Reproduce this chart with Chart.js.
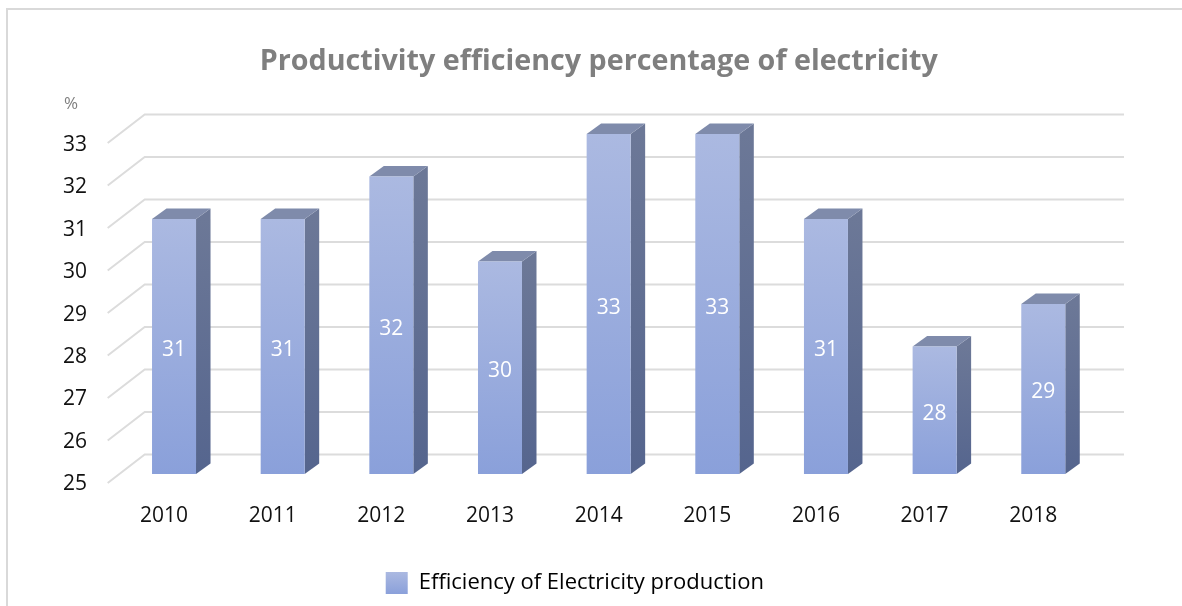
<!DOCTYPE html>
<html>
<head>
<meta charset="utf-8">
<script src="https://cdn.jsdelivr.net/npm/chart.js@4"></script>
<style>
  html, body { margin: 0; padding: 0; background: #fff; overflow: hidden; }
  #wrap { position: relative; width: 1182px; height: 606px; }
  #frame { position: absolute; left: 6px; top: 8px; right: 0; bottom: 0; border-top: 2px solid #d9d9d9; border-left: 2px solid #d9d9d9; }
  canvas { position: absolute; left: 0; top: 0; }
</style>
</head>
<body>
<div id="wrap">
  <div id="frame"></div>
  <canvas id="chartCanvas" width="1182" height="606"></canvas>
</div>
<script>
const years = ['2010', '2011', '2012', '2013', '2014', '2015', '2016', '2017', '2018'];
const efficiency = [31, 31, 32, 30, 33, 33, 31, 28, 29];
const seriesName = 'Efficiency of Electricity production';
const chartTitle = 'Productivity efficiency percentage of electricity';
const unitLabel = '%';

const FONT = '"Open Sans", sans-serif';

// depth of the fake 3d look
const depthX = 14.5;
const depthY = 10.5;

function vGrad(ctx, y0, y1, c0, c1) {
  const g = ctx.createLinearGradient(0, y0, 0, y1);
  g.addColorStop(0, c0);
  g.addColorStop(1, c1);
  return g;
}

const wall3d = {
  id: 'wall3d',
  afterLayout(chart) {
    const { x, y } = chart.scales;
    // tick labels sit on the front edge of the floor, not on the bar plane
    y.getLabelItems().forEach(it => { it.options.translation[1] += 10.5; });
    x.getLabelItems().forEach(it => { it.options.translation[0] -= 10; });
    chart.titleBlock.left += 50;
    chart.titleBlock.right += 50;
    chart.legend.left += 26;
    chart.legend.right += 26;
    chart.legend.top -= 2;
  },
  beforeDatasetsDraw(chart) {
    const { ctx, scales: { y }, chartArea } = chart;
    ctx.save();
    ctx.strokeStyle = '#dcdcdc';
    ctx.lineWidth = 2;
    y.ticks.forEach(t => {
      const py = y.getPixelForValue(t.value);
      ctx.beginPath();
      ctx.moveTo(chartArea.left - 12, py + 9);
      ctx.lineTo(chartArea.left + 25, py - 19.5);
      ctx.lineTo(1124, py - 19.5);
      ctx.stroke();
    });
    // side and top faces of each bar
    chart.getDatasetMeta(0).data.forEach(bar => {
      const l = bar.x - bar.width / 2;
      const r = bar.x + bar.width / 2;
      ctx.fillStyle = vGrad(ctx, bar.y, bar.base, '#6c7897', '#55658e');
      ctx.beginPath();
      ctx.moveTo(r, bar.y);
      ctx.lineTo(r + depthX, bar.y - depthY);
      ctx.lineTo(r + depthX, bar.base - depthY);
      ctx.lineTo(r, bar.base);
      ctx.closePath();
      ctx.fill();
      ctx.fillStyle = '#7f8bab';
      ctx.beginPath();
      ctx.moveTo(l, bar.y);
      ctx.lineTo(l + depthX, bar.y - depthY);
      ctx.lineTo(r + depthX, bar.y - depthY);
      ctx.lineTo(r, bar.y);
      ctx.closePath();
      ctx.fill();
    });
    ctx.restore();
  },
  afterDatasetsDraw(chart) {
    const { ctx, scales: { y } } = chart;
    ctx.save();
    ctx.fillStyle = '#fff';
    ctx.font = '21px ' + FONT;
    ctx.textAlign = 'center';
    ctx.textBaseline = 'middle';
    chart.getDatasetMeta(0).data.forEach((bar, i) => {
      ctx.fillText(String(efficiency[i]), bar.x, (bar.y + bar.base) / 2 + 3.5);
    });
    ctx.fillStyle = '#7f7f7f';
    ctx.font = '17px ' + FONT;
    ctx.fillText(unitLabel, 71, y.getPixelForValue(33) - 30);
    ctx.restore();
  }
};

new Chart(document.getElementById('chartCanvas'), {
  type: 'bar',
  data: {
    labels: years,
    datasets: [{
      label: seriesName,
      data: efficiency,
      base: 25,
      backgroundColor(c) {
        const y = c.chart.scales.y;
        if (!y || c.parsed === undefined) return '#99abdc';
        return vGrad(c.chart.ctx, y.getPixelForValue(c.parsed.y), y.getPixelForValue(25), '#abb9e1', '#8aa0da');
      },
      borderWidth: 0,
      barPercentage: 0.405,
      categoryPercentage: 1
    }]
  },
  plugins: [wall3d],
  options: {
    responsive: false,
    animation: false,
    layout: { padding: { left: 0, right: 84.4, top: 0, bottom: 0 } },
    scales: {
      x: {
        grid: { display: false, drawTicks: false },
        border: { display: false },
        ticks: { color: '#111', font: { family: FONT, size: 21 }, padding: 29, maxRotation: 0, autoSkip: false },
        afterFit(scale) { scale.height = 606 - 474 - scale.chart.legend.height; }
      },
      y: {
        min: 25,
        max: 33,
        grid: { display: false, drawTicks: false },
        border: { display: false },
        ticks: { stepSize: 1, color: '#111', font: { family: FONT, size: 21 }, padding: 32.7 },
        afterFit(scale) { scale.width = 119.7; }
      }
    },
    plugins: {
      tooltip: { enabled: false },
      title: {
        display: true,
        text: chartTitle,
        color: '#7f7f7f',
        font: { family: FONT, size: 28.7, weight: 'bold', lineHeight: 1.2 },
        padding: { top: 44.8, bottom: 54.8 }
      },
      legend: {
        position: 'bottom',
        labels: {
          color: '#333',
          font: { family: FONT, size: 22 },
          boxWidth: 22,
          boxHeight: 22,
          padding: 14,
          generateLabels(chart) {
            return [{
              text: seriesName,
              fillStyle: vGrad(chart.ctx, 572, 594, '#abb9e1', '#8aa0da'),
              strokeStyle: 'transparent',
              lineWidth: 0,
              datasetIndex: 0
            }];
          }
        }
      }
    }
  }
});
</script>
</body>
</html>
